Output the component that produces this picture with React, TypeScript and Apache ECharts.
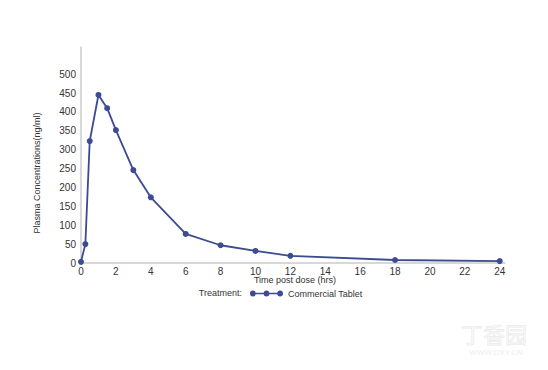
import React, { useEffect, useRef } from "react";
import * as echarts from "echarts";

const timeHours = [0, 0.25, 0.5, 1, 1.5, 2, 3, 4, 6, 8, 10, 12, 18, 24];
const concentrations = [3, 50, 323, 445, 410, 352, 246, 174, 77, 47, 32, 19, 8, 5];
const seriesName = "Commercial Tablet";
const legendTitle = "Treatment:";
const xAxisTitle = "Time post dose (hrs)";
const yAxisTitle = "Plasma Concentrations(ng/ml)";
const watermarkName = "丁香园";
const watermarkUrl = "WWW.DXY.CN";

const COLOR = "#3c4b92";
const FONT = "Liberation Sans, Arial, sans-serif";

export default function App() {
  const ref = useRef<HTMLDivElement>(null);
  useEffect(() => {
    if (!ref.current) return;
    const chart = echarts.init(ref.current, undefined, { renderer: "svg" });
    const data = timeHours.map((t, i) => [t, concentrations[i]]);
    chart.setOption({
      animation: false,
      backgroundColor: "#ffffff",
      textStyle: { fontFamily: FONT },
      grid: { left: 81, right: 43, top: 47, bottom: 107 },
      xAxis: {
        type: "value",
        min: 0,
        max: 24.3,
        interval: 2,
        axisLine: { show: true, lineStyle: { color: "#cccccc", width: 1.5 } },
        axisTick: { show: false },
        splitLine: { show: false },
        axisLabel: {
          color: "#333",
          fontSize: 10,
          margin: 3,
          fontFamily: FONT,
          formatter: (v: number) => (Math.abs(v % 2) < 1e-6 && v <= 24 ? String(v) : ""),
        },
      },
      yAxis: {
        type: "value",
        min: 0,
        max: 572,
        interval: 50,
        offset: 2,
        axisLine: { show: true, lineStyle: { color: "#cccccc", width: 1.5 } },
        axisTick: { show: false },
        splitLine: { show: false },
        axisLabel: {
          color: "#333",
          fontSize: 10,
          margin: 3,
          fontFamily: FONT,
          formatter: (v: number) => (v <= 500 ? String(v) : ""),
        },
      },
      legend: {
        show: true,
        left: 245,
        top: 284,
        itemWidth: 33,
        itemHeight: 6,
        itemGap: 7,
        textStyle: { color: "#333", fontSize: 9, fontFamily: FONT },
        icon:
          "path://M0.5,3a2.8,2.8 0 1,0 5.6,0a2.8,2.8 0 1,0 -5.6,0Z M13.7,3a2.8,2.8 0 1,0 5.6,0a2.8,2.8 0 1,0 -5.6,0Z M26.9,3a2.8,2.8 0 1,0 5.6,0a2.8,2.8 0 1,0 -5.6,0Z M6,2.3L6,3.7L13.8,3.7L13.8,2.3Z M19.2,2.3L19.2,3.7L27,3.7L27,2.3Z",
        data: [seriesName],
      },
      graphic: [
        {
          type: "text",
          x: 242,
          y: 293,
          style: {
            text: legendTitle,
            fill: "#333",
            fontSize: 9,
            fontFamily: FONT,
            textAlign: "right",
            textVerticalAlign: "middle",
          },
        },
        {
          type: "text",
          x: 295,
          y: 280,
          style: {
            text: xAxisTitle,
            fill: "#333",
            fontSize: 9,
            fontFamily: FONT,
            textAlign: "center",
            textVerticalAlign: "middle",
          },
        },
        {
          type: "text",
          x: 37,
          y: 173,
          rotation: Math.PI / 2,
          style: {
            text: yAxisTitle,
            fill: "#333",
            fontSize: 9,
            fontFamily: FONT,
            textAlign: "center",
            textVerticalAlign: "middle",
          },
        },
        {
          type: "text",
          x: 494,
          y: 333,
          style: {
            text: watermarkName,
            fill: "rgba(0,0,0,0)",
            stroke: "#ececec",
            lineWidth: 0.8,
            fontSize: 22,
            fontFamily: "Noto Sans CJK SC",
            textAlign: "center",
            textVerticalAlign: "middle",
          },
        },
        {
          type: "text",
          x: 496,
          y: 352,
          style: {
            text: watermarkUrl,
            fill: "#eeeeee",
            fontSize: 8,
            fontFamily: FONT,
            textAlign: "center",
            textVerticalAlign: "middle",
          },
        },
      ],
      series: [
        {
          name: seriesName,
          type: "line",
          data,
          symbol: "circle",
          symbolSize: 6,
          itemStyle: { color: COLOR },
          lineStyle: { color: COLOR, width: 1.8 },
        },
      ],
    });
    return () => chart.dispose();
  }, []);
  return <div ref={ref} style={{ width: 548, height: 370, position: "absolute", left: 0, top: 0 }} />;
}
